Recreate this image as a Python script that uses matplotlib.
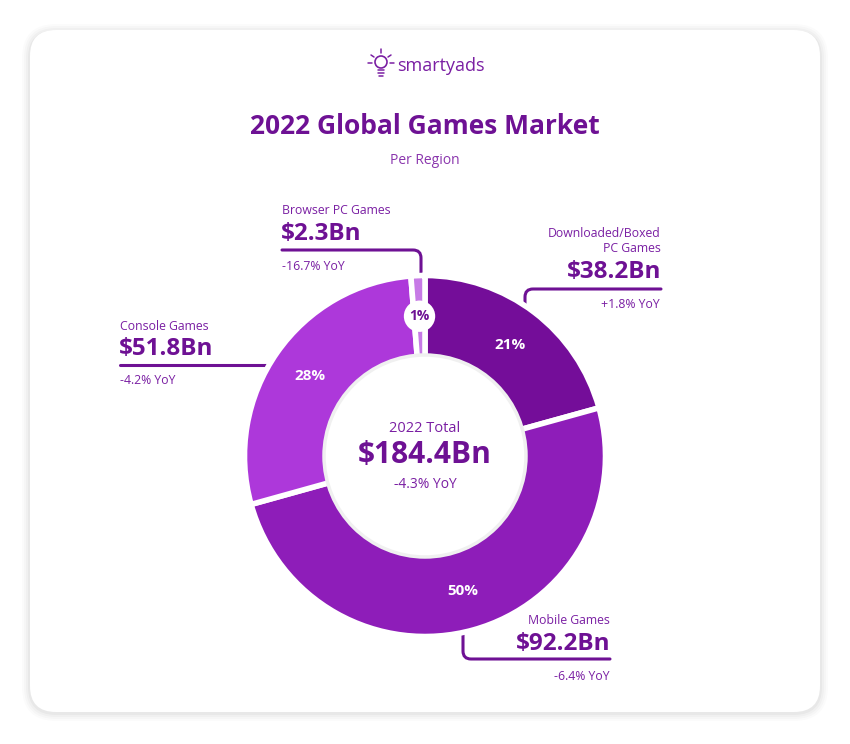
import matplotlib.pyplot as plt
from matplotlib.patches import FancyBboxPatch, Circle
from matplotlib.path import Path
from matplotlib.patches import PathPatch

# data
segments = ['Downloaded/Boxed\nPC Games', 'Mobile Games', 'Console Games', 'Browser PC Games']
revenue = [38.2, 92.2, 51.8, 2.3]
yoy = ['+1.8% YoY', '-6.4% YoY', '-4.2% YoY', '-16.7% YoY']
total = 184.4
total_yoy = '-4.3% YoY'
colors = ['#740d99', '#8e1db9', '#ad38da', '#c77ae6']

purple = '#6e1194'
text_purple = '#7a1fa3'
plt.rcParams['font.family'] = ['Open Sans', 'DejaVu Sans']

W, H = 850, 744
fig = plt.figure(figsize=(W / 100, H / 100), dpi=100)
fig.patch.set_facecolor('white')

bg = fig.add_axes([0, 0, 1, 1])
bg.set_xlim(0, W)
bg.set_ylim(H, 0)
bg.axis('off')

# card with soft shadow
for i, a in enumerate([0.015, 0.02, 0.025, 0.03]):
    g = 8 - 2 * i
    bg.add_patch(FancyBboxPatch((30 - g, 32 - g), 790 + 2 * g, 681 + 2 * g,
                                boxstyle='round,pad=0,rounding_size=%d' % (26 + g),
                                facecolor='black', edgecolor='none', alpha=a))
bg.add_patch(FancyBboxPatch((30, 30), 790, 682, boxstyle='round,pad=0,rounding_size=26',
                            facecolor='white', edgecolor='none'))

# logo
bulb = Circle((381, 62), 6, facecolor='none', edgecolor=text_purple, lw=1.2)
bg.add_patch(bulb)
for x0, y0, x1, y1 in [(381, 49, 381, 53), (371, 55, 374, 57), (391, 55, 388, 57),
                       (368, 63, 372, 63), (390, 63, 394, 63),
                       (378, 70, 384, 70), (378, 73, 384, 73), (379, 76, 383, 76)]:
    bg.plot([x0, x1], [y0, y1], color=text_purple, lw=1.1, solid_capstyle='round')
bg.text(397, 66, 'smartyads', fontsize=13, color=text_purple, ha='left', va='center')

# title
bg.text(425, 127, '2022 Global Games Market', fontsize=19, fontweight='bold',
        color=purple, ha='center', va='center')
bg.text(425, 161, 'Per Region', fontsize=10, color='#8a35ad', ha='center', va='center')


def leader(points, r=8):
    # polyline with rounded corners
    verts = [points[0]]
    codes = [Path.MOVETO]
    for i in range(1, len(points) - 1):
        (xa, ya), (xb, yb), (xc, yc) = points[i - 1], points[i], points[i + 1]
        def towards(p, q, d):
            dx, dy = q[0] - p[0], q[1] - p[1]
            n = (dx ** 2 + dy ** 2) ** 0.5
            return (p[0] + dx / n * d, p[1] + dy / n * d)
        verts += [towards((xb, yb), (xa, ya), r), (xb, yb), towards((xb, yb), (xc, yc), r)]
        codes += [Path.LINETO, Path.CURVE3, Path.CURVE3]
    verts.append(points[-1])
    codes.append(Path.LINETO)
    bg.add_patch(PathPatch(Path(verts, codes), facecolor='none', edgecolor=purple, lw=2.2,
                           capstyle='round'))


# leader lines
leader([(282, 250), (421, 250), (421, 285)])
leader([(661, 289), (525, 289), (525, 320)])
leader([(120, 365), (285, 365)])
leader([(463, 620), (463, 659), (610, 659)])


def value(v):
    return '$%.1fBn' % v


lab = dict(fontsize=8.8, color=text_purple, va='center')
big = dict(fontsize=17.5, fontweight='bold', color=purple, va='center')
# Browser
bg.text(282, 211, segments[3], ha='left', **lab)
bg.text(281, 234, value(revenue[3]), ha='left', **big)
bg.text(282, 267, yoy[3], ha='left', **lab)
# Downloaded
bg.text(661, 241, segments[0], ha='right', linespacing=1.2, multialignment='right', **lab)
bg.text(661, 272, value(revenue[0]), ha='right', **big)
bg.text(660, 304, yoy[0], ha='right', **lab)
# Console
bg.text(120, 326, segments[2], ha='left', **lab)
bg.text(119, 349, value(revenue[2]), ha='left', **big)
bg.text(120, 381, yoy[2], ha='left', **lab)
# Mobile
bg.text(610, 621, segments[1], ha='right', **lab)
bg.text(611, 644, value(revenue[1]), ha='right', **big)
bg.text(610, 676, yoy[1], ha='right', **lab)

# donut
cx, cy, R = 425, 456, 178
half = 195
pax = fig.add_axes([(cx - half) / W, (H - cy - half) / H, 2 * half / W, 2 * half / H])
pax.set_xlim(-half, half)
pax.set_ylim(-half, half)
pax.axis('off')
pax.patch.set_alpha(0)

pax.add_patch(Circle((0, 0), R + 4, facecolor='#000000', alpha=0.035, edgecolor='none'))
pax.add_patch(Circle((0, 0), R + 2, facecolor='#000000', alpha=0.04, edgecolor='none'))
wedges, _, autotexts = pax.pie(revenue, colors=colors, startangle=90, counterclock=False,
                               radius=R + 2.5, autopct='%1.0f%%', pctdistance=0.775,
                               wedgeprops=dict(width=R + 2.5 - 97, edgecolor='white', linewidth=4),
                               textprops=dict(color='white', fontsize=11, fontweight='bold'))
pax.set_xlim(-half, half)
pax.set_ylim(-half, half)
pax.add_patch(Circle((0, 0), 101, facecolor='white', edgecolor='#f0f0f0', lw=2.5))

t = autotexts[3]
t.set_color(purple)
t.set_fontsize(10)
t.set_bbox(dict(boxstyle='circle,pad=0.4', facecolor='white', edgecolor='none'))

pax.text(0, 28, '2022 Total', fontsize=10.5, color=text_purple, ha='center', va='center')
pax.text(0, 1, value(total), fontsize=21.5, fontweight='bold', color=purple,
         ha='center', va='center')
pax.text(0, -28, total_yoy, fontsize=10, color=text_purple, ha='center', va='center')

fig.savefig('out.png', dpi=100)
